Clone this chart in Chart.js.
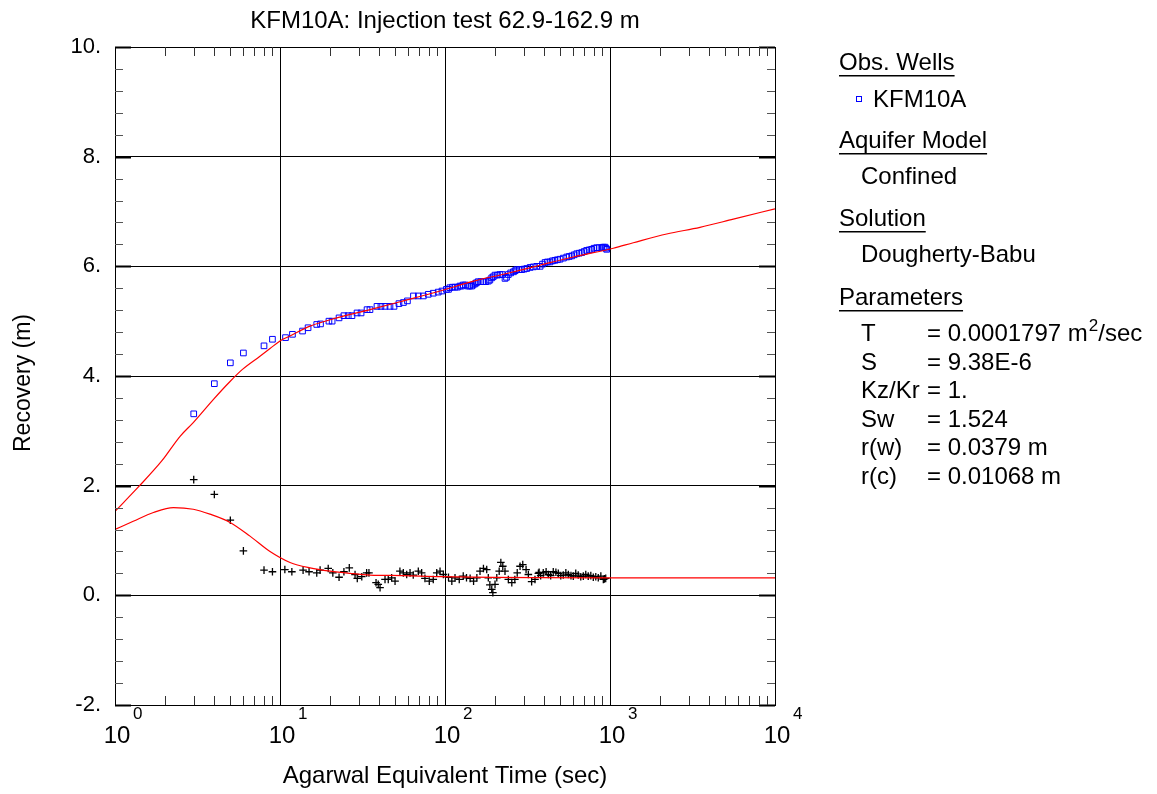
<!DOCTYPE html>
<html lang="en">
<head>
<meta charset="UTF-8">
<title>KFM10A: Injection test 62.9-162.9 m</title>
<script src="https://cdn.jsdelivr.net/npm/chart.js"></script>
<style>
  html, body { margin: 0; padding: 0; background: #fff; }
  #wrap { width: 1157px; height: 794px; }
</style>
</head>
<body>
<div id="wrap"><canvas id="chart" width="1157" height="794"></canvas></div>
<script>
// Observed recovery (KFM10A), time in sec, recovery in m
const obsTime = [3, 4, 5, 6, 8, 9, 10.8, 11.9, 13.7, 14.8, 16.7, 17.6, 19.8, 20.7, 22.8, 24.4, 25.9, 27.3,
  29.3, 31.0, 33.7, 35.1, 38.7, 40.9, 43.3, 46.4, 49.1, 52.6, 56.0, 59.2, 64.4, 68.9, 73.9, 79.2, 84.9,
  91.0, 95.9, 102, 105, 107, 111, 115, 119, 123, 126, 129, 133, 138, 141, 145, 148, 152, 155, 159, 165,
  171, 177, 183, 187, 192, 196, 201, 208, 215, 222, 231, 236, 242, 250, 260, 266, 272, 282, 292, 302,
  313, 328, 343, 360, 377, 390, 404, 418, 433, 448, 464, 480, 498, 522, 547, 566, 586, 607, 629, 651,
  674, 698, 722, 748, 774, 800, 830, 860, 891, 912, 933, 945, 955];
const obsRec = [3.31, 3.86, 4.24, 4.42, 4.55, 4.67, 4.70, 4.76, 4.82, 4.88, 4.94, 4.95, 5.00, 5.00, 5.06, 5.10, 5.10, 5.10,
  5.15, 5.15, 5.21, 5.21, 5.27, 5.27, 5.27, 5.27, 5.27, 5.32, 5.34, 5.37, 5.46, 5.46, 5.46, 5.49, 5.51,
  5.53, 5.55, 5.58, 5.58, 5.61, 5.62, 5.62, 5.62, 5.64, 5.64, 5.66, 5.66, 5.64, 5.64, 5.64, 5.66, 5.68, 5.70, 5.72, 5.72,
  5.72, 5.72, 5.73, 5.75, 5.79, 5.81, 5.84, 5.84, 5.85, 5.85, 5.78, 5.80, 5.85, 5.88, 5.90, 5.92, 5.94, 5.94, 5.94, 5.95,
  5.96, 5.98, 5.99, 6.00, 6.00, 6.04, 6.07, 6.08, 6.08, 6.10, 6.11, 6.12, 6.13, 6.15, 6.17, 6.18, 6.19, 6.21, 6.23, 6.24,
  6.25, 6.27, 6.29, 6.30, 6.31, 6.33, 6.34, 6.34, 6.34, 6.35, 6.35, 6.33, 6.31];

// Recovery derivative
const derivTime = [3, 4, 5, 6, 8, 9, 10.7, 11.8, 13.8, 15.0, 16.7, 17.5, 19.6, 20.9, 22.8, 24.4, 26.3, 28.5,
  29.4, 31.3, 33.5, 34.6, 38.2, 39.4, 40.4, 43.3, 45.3, 47.5, 49.8, 53.3, 55.9, 58.6, 61.4, 64.2, 68.9,
  72.2, 75.6, 80.3, 84.9, 89.1, 93.3, 97.7, 105, 110, 115, 122, 129, 135, 142, 149, 156, 163, 171, 179,
  183, 187, 192, 195, 201, 206, 213, 218, 224, 231, 242, 254, 265, 274, 285, 296, 310, 320, 335, 351,
  368, 372, 380, 394, 410, 423, 437, 453, 470, 486, 503, 521, 540, 559, 580, 599, 620, 642, 665, 689,
  713, 738, 765, 792, 820, 849, 880, 911, 925, 942];
const derivVal = [2.11, 1.84, 1.37, 0.81, 0.46, 0.43, 0.47, 0.43, 0.46, 0.43, 0.41, 0.46, 0.49, 0.41, 0.33, 0.43, 0.50, 0.38,
  0.31, 0.34, 0.41, 0.41, 0.23, 0.20, 0.14, 0.29, 0.29, 0.32, 0.26, 0.44, 0.41, 0.38, 0.41, 0.37, 0.44,
  0.41, 0.31, 0.26, 0.29, 0.41, 0.44, 0.38, 0.33, 0.26, 0.32, 0.29, 0.35, 0.32, 0.31, 0.26, 0.32, 0.44, 0.49, 0.47,
  0.32, 0.19, 0.11, 0.05, 0.20, 0.32, 0.44, 0.60, 0.53, 0.44, 0.29, 0.23, 0.29, 0.41, 0.53, 0.56, 0.47, 0.38, 0.25, 0.29,
  0.40, 0.42, 0.36, 0.41, 0.43, 0.38, 0.36, 0.43, 0.42, 0.40, 0.36, 0.37, 0.41, 0.38, 0.36, 0.35, 0.40, 0.37, 0.34, 0.35,
  0.38, 0.35, 0.36, 0.33, 0.34, 0.32, 0.35, 0.29, 0.30, 0.31];

// Dougherty-Babu fitted curves
const fitTime = [1, 1.40, 1.92, 2.48, 2.98, 3.94, 4.98, 5.92, 7.56, 8.70, 10, 11.5, 15.2, 22.1, 35.1, 55.9, 93.3,
  149, 237, 376, 599, 1047, 1384, 2206, 3511, 5590, 10000];
const fitRec = [1.53, 1.99, 2.45, 2.90, 3.15, 3.57, 3.90, 4.12, 4.36, 4.50, 4.64, 4.73, 4.91, 5.06, 5.21, 5.37, 5.55,
  5.73, 5.87, 6.02, 6.17, 6.33, 6.43, 6.59, 6.71, 6.86, 7.05];
const fitDerivTime = [1, 1.29, 1.71, 2.26, 2.98, 3.76, 4.98, 6.58, 8.70, 11.5, 15.2, 20.1, 26.6, 35.1, 55.9, 93.3, 1047, 10000];
const fitDerivVal = [1.20, 1.35, 1.51, 1.60, 1.57, 1.48, 1.33, 1.08, 0.80, 0.60, 0.50, 0.44, 0.40, 0.37, 0.36, 0.34, 0.32, 0.32];

// axes
const xDecades = [1, 10, 100, 1000, 10000];
const xExponents = ['0', '1', '2', '3', '4'];
const yMajor = [-2, 0, 2, 4, 6, 8, 10];
const yLabels = ['-2.', '0.', '2.', '4.', '6.', '8.', '10.'];

// right-hand info panel
const panelSections = [
  { head: 'Obs. Wells', lines: ['KFM10A'] },
  { head: 'Aquifer Model', lines: ['Confined'] },
  { head: 'Solution', lines: ['Dougherty-Babu'] }
];
const paramNames = ['T', 'S', 'Kz/Kr', 'Sw', 'r(w)', 'r(c)'];
const paramValues = ['= 0.0001797 m', '= 9.38E-6', '= 1.', '= 1.524', '= 0.0379 m', '= 0.01068 m'];

const FONT = "'Liberation Sans', Arial, sans-serif";
const pts = (xs, ys) => xs.map((x, i) => ({ x: x, y: ys[i] }));

// frame, minor ticks, titles, exponent labels and the parameter panel
const decor = {
  id: 'decor',
  afterDraw(chart) {
    const c = chart.ctx;
    const a = chart.chartArea;
    const xs = chart.scales.x, ys = chart.scales.y;
    c.save();

    c.strokeStyle = '#000';
    c.lineWidth = 1;
    c.strokeRect(Math.round(a.left) + 0.5, Math.round(a.top) + 0.5,
      Math.round(a.right - a.left), Math.round(a.bottom - a.top));

    // y minor ticks every 0.4
    c.strokeStyle = '#555';
    for (let i = 0; i <= 30; i++) {
      const v = -2 + i * 0.4;
      if (i % 5 === 0) continue;
      const py = Math.round(ys.getPixelForValue(v)) + 0.5;
      c.beginPath();
      c.moveTo(a.left, py); c.lineTo(a.left + 8, py);
      c.moveTo(a.right, py); c.lineTo(a.right - 8, py);
      c.stroke();
    }
    c.strokeStyle = '#000';
    c.lineWidth = 2;
    yMajor.forEach(v => {
      const py = Math.round(ys.getPixelForValue(v)) + 0.5;
      c.beginPath();
      c.moveTo(a.left, py); c.lineTo(a.left + 16, py);
      c.moveTo(a.right, py); c.lineTo(a.right - 16, py);
      c.stroke();
    });

    // x minor ticks 2..9 in each decade
    c.lineWidth = 1;
    c.strokeStyle = '#333';
    for (let d = 1; d < 10000; d *= 10) {
      for (let k = 2; k <= 9; k++) {
        const px = Math.round(xs.getPixelForValue(k * d)) + 0.5;
        c.beginPath();
        c.moveTo(px, a.bottom); c.lineTo(px, a.bottom - 9);
        c.moveTo(px, a.top); c.lineTo(px, a.top + 9);
        c.stroke();
      }
    }

    c.fillStyle = '#000';
    c.textBaseline = 'alphabetic';

    // x tick labels 10^n
    xDecades.forEach((v, i) => {
      const px = xs.getPixelForValue(v);
      c.font = '24px ' + FONT;
      c.textAlign = 'center';
      c.fillText('10', px + 2, 743);
      c.font = '17px ' + FONT;
      c.textAlign = 'left';
      c.fillText(xExponents[i], px + 18, 719);
    });

    // title and axis titles
    c.textAlign = 'center';
    c.font = '24px ' + FONT;
    c.fillText('KFM10A: Injection test 62.9-162.9 m', (a.left + a.right) / 2, 28);
    c.fillText('Agarwal Equivalent Time (sec)', (a.left + a.right) / 2, 783);
    c.save();
    c.font = '23px ' + FONT;
    c.translate(30, 383);
    c.rotate(-Math.PI / 2);
    c.fillText('Recovery (m)', 0, 0);
    c.restore();

    // parameter panel
    c.textAlign = 'left';
    c.font = '24px ' + FONT;
    const px0 = 839, px1 = 861, pxEq = 927;
    const headY = [70, 148, 226];
    const lineY = [107, 184, 262];
    const heading = (txt, yy) => {
      c.fillText(txt, px0, yy);
      const w = c.measureText(txt).width;
      c.fillRect(px0, yy + 5, w, 1.5);
    };
    panelSections.forEach((s, si) => {
      heading(s.head, headY[si]);
      s.lines.forEach(l => {
        if (si === 0) {
          c.strokeStyle = '#0000ff';
          c.lineWidth = 1;
          c.strokeRect(856.5, 96.5, 5, 5);
          c.fillText(l, 873, lineY[si]);
        } else {
          c.fillText(l, px1, lineY[si]);
        }
      });
    });
    heading('Parameters', 305);
    paramNames.forEach((n, i) => {
      const yy = 341 + i * 28.6;
      c.fillText(n, px1, yy);
      c.fillText(paramValues[i], pxEq, yy);
      if (i === 0) {
        const w = c.measureText(paramValues[i]).width;
        c.font = '17px ' + FONT;
        c.fillText('2', pxEq + w + 1, yy - 10);
        const w2 = c.measureText('2').width;
        c.font = '24px ' + FONT;
        c.fillText('/sec', pxEq + w + w2 + 1, yy);
      }
    });

    c.restore();
  }
};

new Chart(document.getElementById('chart').getContext('2d'), {
  type: 'scatter',
  data: {
    datasets: [
      {
        label: 'Dougherty-Babu', data: pts(fitTime, fitRec), showLine: true,
        borderColor: '#ff0000', borderWidth: 1.2, pointRadius: 0,
        cubicInterpolationMode: 'monotone', order: 0
      },
      {
        label: 'Dougherty-Babu derivative', data: pts(fitDerivTime, fitDerivVal), showLine: true,
        borderColor: '#ff0000', borderWidth: 1.2, pointRadius: 0,
        cubicInterpolationMode: 'monotone', order: 0
      },
      {
        label: 'KFM10A', data: pts(obsTime, obsRec), pointStyle: 'rect', pointRadius: 4,
        borderColor: '#0000ff', backgroundColor: 'rgba(0,0,0,0)', borderWidth: 1, order: 1
      },
      {
        label: 'KFM10A derivative', data: pts(derivTime, derivVal), pointStyle: 'cross', pointRadius: 3.8,
        borderColor: '#000000', borderWidth: 1.3, order: 1
      }
    ]
  },
  options: {
    responsive: false,
    animation: false,
    events: [],
    layout: { padding: { left: 0, top: 47, right: 382, bottom: 0 } },
    plugins: { legend: { display: false }, tooltip: { enabled: false } },
    scales: {
      x: {
        type: 'logarithmic', min: 1, max: 10000,
        afterBuildTicks: s => { s.ticks = xDecades.map(v => ({ value: v })); },
        afterFit: s => { s.height = 89; },
        grid: { color: '#000', lineWidth: 1, drawTicks: false },
        border: { color: '#000' },
        ticks: { display: false }
      },
      y: {
        min: -2, max: 10,
        afterBuildTicks: s => { s.ticks = yMajor.map(v => ({ value: v })); },
        afterFit: s => { s.width = 115; },
        grid: { color: '#000', lineWidth: 1, drawTicks: false },
        border: { color: '#000' },
        ticks: {
          color: '#000', padding: 14,
          font: { family: FONT, size: 22 },
          callback: v => yLabels[yMajor.indexOf(v)]
        }
      }
    }
  },
  plugins: [decor]
});
</script>
</body>
</html>
